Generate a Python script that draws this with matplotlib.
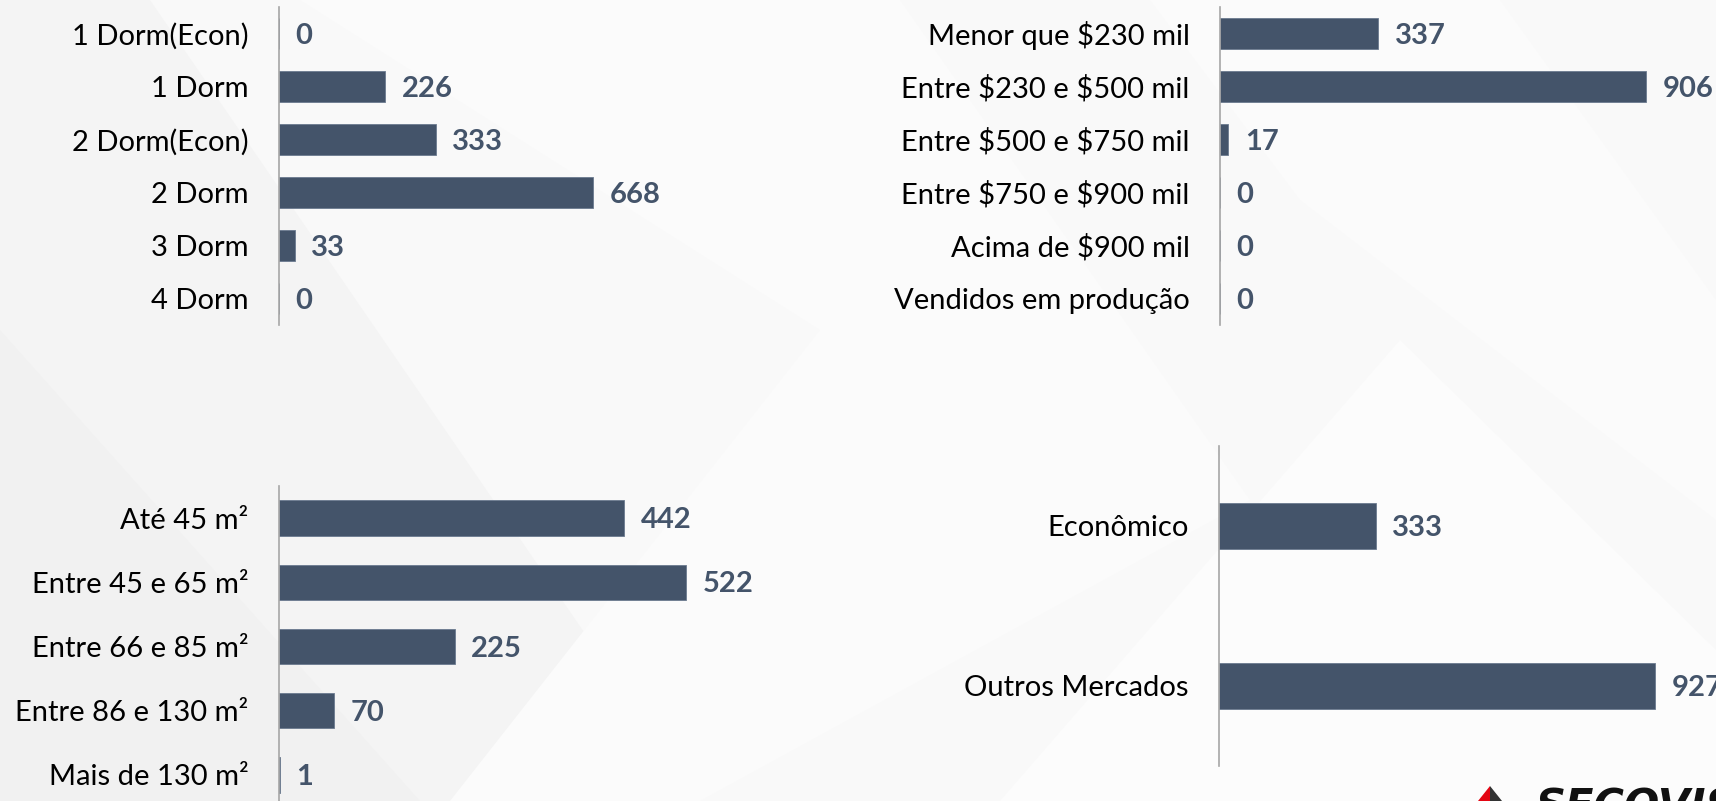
import matplotlib.pyplot as plt
from matplotlib.patches import Polygon

# dados
dorm_cats = ['1 Dorm(Econ)', '1 Dorm', '2 Dorm(Econ)', '2 Dorm', '3 Dorm', '4 Dorm']
dorm_vals = [0, 226, 333, 668, 33, 0]

preco_cats = ['Menor que \\$230 mil', 'Entre \\$230 e \\$500 mil', 'Entre \\$500 e \\$750 mil',
              'Entre \\$750 e \\$900 mil', 'Acima de \\$900 mil', 'Vendidos em produção']
preco_vals = [337, 906, 17, 0, 0, 0]

area_cats = ['Até 45 m²', 'Entre 45 e 65 m²', 'Entre 66 e 85 m²',
             'Entre 86 e 130 m²', 'Mais de 130 m²']
area_vals = [442, 522, 225, 70, 1]

merc_cats = ['Econômico', 'Outros Mercados']
merc_vals = [333, 927]

BAR = '#44546A'
W, H = 1716, 801

plt.rcParams['font.family'] = ['Lato', 'DejaVu Sans']

fig = plt.figure(figsize=(W / 100, H / 100), dpi=100)
fig.patch.set_facecolor('#F9F9F9')

# fundo com formas diagonais suaves
bg = fig.add_axes([0, 0, 1, 1], zorder=-10)
bg.set_xlim(0, W)
bg.set_ylim(H, 0)
bg.axis('off')
shapes = [
    ([(0, 0), (150, 0), (700, 801), (0, 801)], '#F4F4F4'),
    ([(0, 330), (0, 801), (420, 801)], '#F1F1F1'),
    ([(300, 0), (900, 0), (1250, 500), (700, 801), (450, 801), (820, 330)], '#FBFBFB'),
    ([(1150, 0), (1500, 0), (1716, 300), (1716, 520), (1300, 200)], '#FBFBFB'),
    ([(1000, 801), (1400, 340), (1716, 650), (1716, 801)], '#FCFCFC'),
]
for pts, c in shapes:
    bg.add_patch(Polygon(pts, closed=True, fc=c, ec='none'))


def panel(left, top, bottom, width, px_per_unit, cats, vals, bar_h):
    ax = fig.add_axes([left / W, 1 - bottom / H, width / W, (bottom - top) / H])
    ax.patch.set_alpha(0)
    y = list(range(len(cats)))
    ax.barh(y, vals, height=bar_h, color=BAR, edgecolor='#6B7A8F', linewidth=0.6)
    ax.set_xlim(0, width / px_per_unit)
    ax.set_ylim(len(cats) - 0.5, -0.5)
    ax.set_yticks(y)
    ax.set_yticklabels(cats, fontsize=21, color='#000000')
    ax.tick_params(axis='y', length=0, pad=22)
    ax.set_xticks([])
    for s in ['top', 'right', 'bottom']:
        ax.spines[s].set_visible(False)
    ax.spines['left'].set_color('#A6A6A6')
    ax.spines['left'].set_linewidth(1.2)
    for yi, v in zip(y, vals):
        ax.annotate(str(v), (v, yi), xytext=(12, -1.5), textcoords='offset points',
                    ha='left', va='center', fontsize=21, fontweight='bold', color=BAR)
    return ax


panel(279, 7, 325, 480, 0.47, dorm_cats, dorm_vals, 0.57)
panel(1220, 7, 325, 490, 0.47, preco_cats, preco_vals, 0.57)
panel(279, 486, 807, 480, 0.78, area_cats, area_vals, 0.55)
panel(1219, 446, 766, 490, 0.47, merc_cats, merc_vals, 0.29)

# logo cortado no canto inferior direito
bg.add_patch(Polygon([(1478, 801), (1490, 786), (1490, 801)], closed=True, fc='#E30613', ec='none'))
bg.add_patch(Polygon([(1490, 786), (1502, 801), (1490, 801)], closed=True, fc='#333333', ec='none'))
bg.text(1535, 787, 'SECOVISP', fontsize=30, fontweight='bold', fontstyle='italic',
        color='#111111', ha='left', va='top', family=['DejaVu Sans'])

fig.savefig('out.png', dpi=100, facecolor=fig.get_facecolor())
